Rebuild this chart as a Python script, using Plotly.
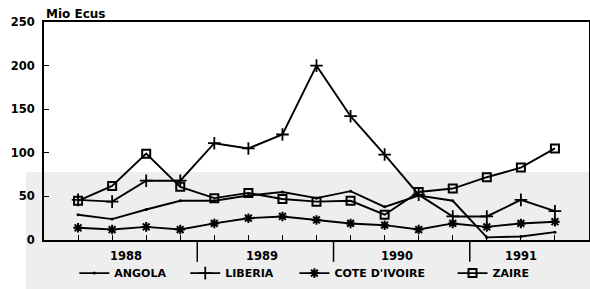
import plotly.graph_objects as go

# Quarterly data 1988 Q1 .. 1991 Q3 (Mio Ecus)
quarters = list(range(1, 16))
years = ["1988", "1989", "1990", "1991"]
year_centers = [2.4, 6.4, 10.35, 14.0]
year_separators = [4.5, 8.5, 12.5]

angola = [29, 24, 35, 45, 45, 51, 55, 48, 56, 38, 51, 45, 3, 4, 9]
liberia = [46, 44, 68, 68, 111, 105, 121, 200, 142, 98, 52, 27, 27, 46, 33]
cote_divoire = [14, 12, 15, 12, 19, 25, 27, 23, 19, 17, 12, 19, 15, 19, 21]
zaire = [45, 62, 99, 61, 48, 54, 47, 44, 45, 29, 55, 59, 72, 83, 105]

series_names = ["ANGOLA", "LIBERIA", "COTE D'IVOIRE", "ZAIRE"]
y_ticks = [0, 50, 100, 150, 200, 250]

FAM = "DejaVu Sans, Verdana, sans-serif"
FONT = dict(family=FAM, color="black", size=11, weight="bold")
FONT_TICK = dict(family=FAM, color="black", size=11.5, weight="bold")
FONT_TITLE = dict(family=FAM, color="black", size=12, weight="bold")

fig = go.Figure()
specs = [
    (angola, dict(symbol="circle", size=3, color="black")),
    (liberia, dict(symbol="cross-thin-open", size=9, color="black", line=dict(width=1.8, color="black"))),
    (cote_divoire, dict(symbol="asterisk-open", size=8, color="black", line=dict(width=2, color="black"))),
    (zaire, dict(symbol="square-open", size=8, color="black", line=dict(width=2, color="black"))),
]
legend_ids = ["legend", "legend2", "legend3", "legend4"]
for (vals, mk), name, lid in zip(specs, series_names, legend_ids):
    fig.add_trace(go.Scatter(
        x=quarters, y=vals, name=name, mode="lines+markers",
        line=dict(color="black", width=1.9), marker=mk, legend=lid,
    ))

# light grey scan band
fig.add_shape(type="rect", xref="paper", yref="paper",
              x0=-0.033, x1=1.01, y0=-0.23, y1=0.312,
              fillcolor="#eeeeee", line=dict(width=0), layer="below")

for s in year_separators:
    fig.add_shape(type="line", xref="x", yref="paper", x0=s, x1=s, y0=0, y1=-0.1,
                  line=dict(color="black", width=1.5))

for yr, c in zip(years, year_centers):
    fig.add_annotation(x=c, y=0, xref="x", yref="paper", yanchor="top", yshift=-7,
                       text=yr, showarrow=False, font=FONT_TICK)

fig.add_annotation(x=0, y=1, xref="paper", yref="paper", xanchor="left", yanchor="bottom",
                   yshift=-1, text="Mio Ecus", showarrow=False, font=FONT_TITLE)

leg_x = [0.126, 0.314, 0.499, 0.767]
leg_common = dict(orientation="h", yref="container", xref="container",
                  yanchor="middle", y=0.055, xanchor="left",
                  font=FONT, bgcolor="rgba(0,0,0,0)", itemwidth=30, borderwidth=0)
layout_legends = {}
for lid, lx in zip(legend_ids, leg_x):
    layout_legends[lid] = dict(x=lx, **leg_common)

fig.update_layout(
    width=590, height=289,
    margin=dict(l=44, r=1, t=22, b=49, autoexpand=False),
    paper_bgcolor="white", plot_bgcolor="rgba(0,0,0,0)",
    showlegend=True,
    xaxis=dict(range=[0, 16], tickvals=quarters, showticklabels=False,
               ticks="inside", ticklen=5, tickwidth=1.2, tickcolor="black",
               showgrid=False, zeroline=False, showline=True, linecolor="black",
               linewidth=1.8, mirror=True),
    yaxis=dict(range=[0, 250], tickvals=y_ticks, ticks="inside", ticklen=5,
               tickwidth=1.2, tickcolor="black", showgrid=False, zeroline=False,
               showline=True, linecolor="black", linewidth=1.8, mirror=True,
               tickfont=FONT_TICK, ticklabelstandoff=5),
    **layout_legends,
)

fig.write_html("out.html", config={"displayModeBar": False},
               post_script="document.body.style.margin='0';")
